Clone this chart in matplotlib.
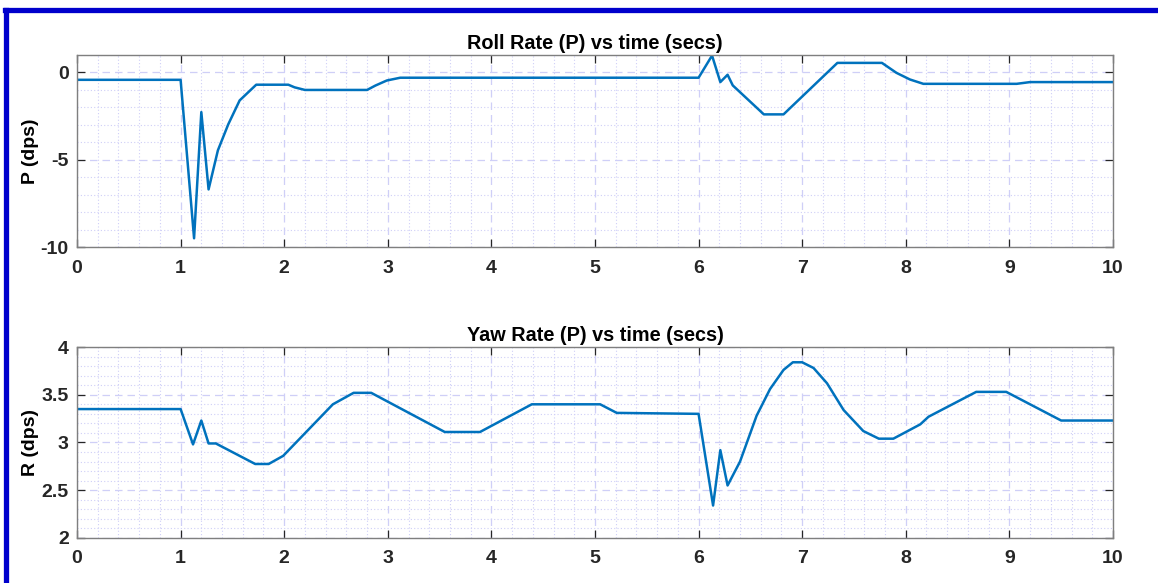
import numpy as np
import matplotlib.pyplot as plt
from matplotlib.lines import Line2D
from matplotlib.ticker import MultipleLocator

plt.rcParams['font.family'] = ['Liberation Sans', 'DejaVu Sans']
plt.rcParams['font.weight'] = 'bold'
plt.rcParams['axes.unicode_minus'] = False

# roll rate P (dps) vs time
t_p = [0, 1.0, 1.13, 1.2, 1.27, 1.36, 1.46, 1.57, 1.73, 2.04, 2.1, 2.2, 2.8,
       2.88, 2.99, 3.12, 6.0, 6.13, 6.21, 6.28, 6.33, 6.63, 6.82, 7.34, 7.77,
       7.91, 8.04, 8.17, 9.07, 9.2, 10]
p_vals = [-0.42, -0.42, -9.5, -2.27, -6.7, -4.46, -2.97, -1.6, -0.7, -0.7, -0.85,
          -1.0, -1.0, -0.75, -0.46, -0.3, -0.3, 0.97, -0.55, -0.13, -0.74, -2.4,
          -2.4, 0.55, 0.55, -0.02, -0.4, -0.65, -0.65, -0.55, -0.55]

# yaw rate R (dps) vs time
t_r = [0, 1.0, 1.12, 1.2, 1.27, 1.34, 1.72, 1.85, 1.99, 2.47, 2.67, 2.84, 3.55,
       3.89, 4.39, 5.05, 5.21, 6.0, 6.14, 6.21, 6.28, 6.40, 6.56, 6.69, 6.82,
       6.91, 7.0, 7.11, 7.24, 7.40, 7.59, 7.74, 7.88, 8.14, 8.22, 8.68, 8.97,
       9.50, 10]
r_vals = [3.35, 3.35, 2.98, 3.23, 2.99, 2.99, 2.775, 2.775, 2.86, 3.40, 3.52, 3.52,
          3.11, 3.11, 3.40, 3.40, 3.31, 3.30, 2.34, 2.92, 2.55, 2.80, 3.28, 3.56,
          3.76, 3.84, 3.84, 3.78, 3.62, 3.34, 3.12, 3.04, 3.04, 3.19, 3.27, 3.53,
          3.53, 3.23, 3.23]

LINE = "#0072BD"
GRID = "#CFCFF7"


def style(ax, ylim, ymaj, ymin):
    ax.set_xlim(0, 10)
    ax.set_ylim(*ylim)
    ax.xaxis.set_major_locator(MultipleLocator(1))
    ax.xaxis.set_minor_locator(MultipleLocator(0.2))
    ax.yaxis.set_major_locator(MultipleLocator(ymaj))
    ax.yaxis.set_minor_locator(MultipleLocator(ymin))
    ax.grid(which="major", color=GRID, linestyle=(0, (6, 4)), linewidth=0.9)
    ax.grid(which="minor", color=GRID, linestyle=(0, (1, 2)), linewidth=0.8)
    ax.set_axisbelow(True)
    ax.tick_params(which="major", direction="in", length=6, width=0.9,
                   top=True, right=True, labelsize=14, colors="#262626")
    ax.tick_params(axis="x", which="major", pad=9)
    ax.tick_params(axis="y", which="major", pad=6)
    ax.tick_params(which="minor", length=0)
    for s in ax.spines.values():
        s.set_color("#7f7f7f")
        s.set_linewidth(1.0)


fig = plt.figure(figsize=(11.58, 5.83), dpi=100)
ax1 = fig.add_axes([0.0665, 0.5763, 0.8946, 0.3293])
ax2 = fig.add_axes([0.0665, 0.0772, 0.8946, 0.3276])

ax1.plot(t_p, p_vals, color=LINE, linewidth=1.8)
style(ax1, (-10, 1), 5, 1)
ax1.set_ylabel("P (dps)", fontsize=14, fontweight="bold", va="center")
ax1.yaxis.set_label_coords(-0.0445, 0.5)
ax1.set_title("Roll Rate (P) vs time (secs)", fontsize=14.3, fontweight="bold", pad=4)

ax2.plot(t_r, r_vals, color=LINE, linewidth=1.8)
style(ax2, (2, 4), 0.5, 0.1)
ax2.set_yticks([2, 2.5, 3, 3.5, 4])
ax2.set_yticklabels(["2", "2.5", "3", "3.5", "4"])
ax2.set_ylabel("R (dps)", fontsize=14, fontweight="bold", va="center")
ax2.yaxis.set_label_coords(-0.0445, 0.5)
ax2.set_title("Yaw Rate (P) vs time (secs)", fontsize=14.3, fontweight="bold", pad=4)

# blue frame on the left and top
fig.add_artist(Line2D([0.0056, 0.0056], [0.0, 0.982], color="#0000CC",
                      linewidth=3.8, transform=fig.transFigure))
fig.add_artist(Line2D([0.0040, 1.0], [0.982, 0.982], color="#0000CC",
                      linewidth=3.8, transform=fig.transFigure))

fig.savefig("out.png", dpi=100)
